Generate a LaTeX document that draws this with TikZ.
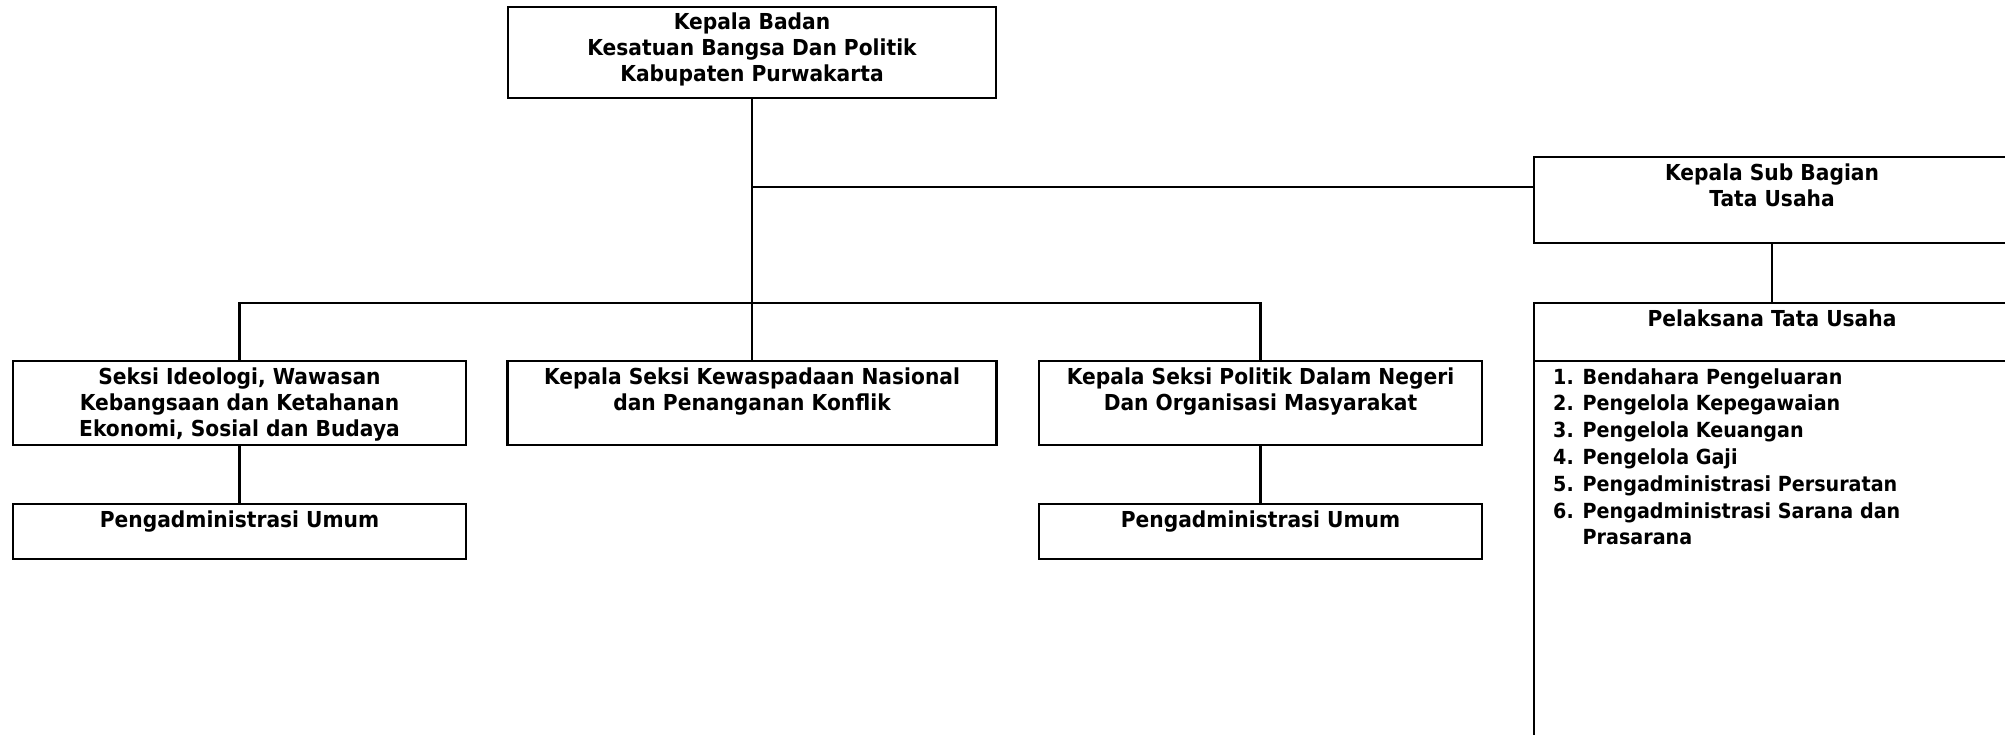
\documentclass[tikz,border=0pt]{standalone}
\usepackage{fontspec}
\setmainfont{DejaVu Sans}[FakeStretch=0.92]

\begin{document}
\begin{tikzpicture}[
    x=0.5pt, y=-0.5pt,
    unit box/.style={draw, line width=1.2pt, inner sep=0pt},
    unit title/.style={anchor=north, inner sep=0pt, align=center, font=\fontsize{11}{13}\selectfont\bfseries},
    duty list/.style={anchor=north west, inner sep=0pt, align=left, font=\fontsize{10.4}{13.4}\selectfont\bfseries},
    link/.style={line width=1.1pt}
]
\useasboundingbox (0,0) rectangle (2005,734);

% Kepala Badan
\node[unit box, minimum width=244pt, minimum height=45.5pt] (kepala) at (752,52.5) {};
\node[unit title] (kepala title) at ([yshift=-3.2pt]kepala.north) {Kepala Badan\\Kesatuan Bangsa Dan Politik\\Kabupaten Purwakarta};

% Sub Bagian Tata Usaha
\node[unit box, minimum width=238pt, minimum height=43pt] (kasubag) at (1772,200) {};
\node[unit title] (kasubag title) at ([yshift=-4pt]kasubag.north) {Kepala Sub Bagian\\Tata Usaha};

\node[unit box, minimum width=238pt, minimum height=29pt] (pelaksana) at (1772,332) {};
\node[unit title] (pelaksana title) at ([yshift=-4pt]pelaksana.north) {Pelaksana Tata Usaha};
\node[unit box, minimum width=238pt, minimum height=204.5pt] (tugas) at (1772,565.5) {};
\node[duty list] (tugas list) at ([xshift=10pt, yshift=-4pt]tugas.north west) {1. Bendahara Pengeluaran\\2. Pengelola Kepegawaian\\3. Pengelola Keuangan\\4. Pengelola Gaji\\5. Pengadministrasi Persuratan\\6. Pengadministrasi Sarana dan\\\hphantom{6. }Prasarana};

% Seksi
\node[unit box, minimum width=226.5pt, minimum height=42pt] (ideologi) at (239.5,403) {};
\node[unit title] (ideologi title) at ([yshift=-4pt]ideologi.north) {Seksi Ideologi, Wawasan\\Kebangsaan dan Ketahanan\\Ekonomi, Sosial dan Budaya};

\node[unit box, minimum width=244.5pt, minimum height=42pt] (kewaspadaan) at (752,403) {};
\node[unit title] (kewaspadaan title) at ([yshift=-4pt]kewaspadaan.north) {Kepala Seksi Kewaspadaan Nasional\\dan Penanganan Konflik};

\node[unit box, minimum width=221.5pt, minimum height=42pt] (politik) at (1260.5,403) {};
\node[unit title] (politik title) at ([yshift=-4pt]politik.north) {Kepala Seksi Politik Dalam Negeri\\Dan Organisasi Masyarakat};

% Pengadministrasi Umum
\node[unit box, minimum width=226.5pt, minimum height=27.5pt] (umum1) at (239.5,531.5) {};
\node[unit title] (umum1 title) at ([yshift=-4pt]umum1.north) {Pengadministrasi Umum};

\node[unit box, minimum width=221.5pt, minimum height=27.5pt] (umum2) at (1260.5,531.5) {};
\node[unit title] (umum2 title) at ([yshift=-4pt]umum2.north) {Pengadministrasi Umum};

% Connections
\coordinate (staff) at (752,187);
\coordinate (branch) at (752,303);
\draw[link] (kepala.south) -- (kewaspadaan.north);
\draw[link] (staff) -- (staff -| kasubag.west);
\draw[link] (ideologi.north) |- (branch) -| (politik.north);
\draw[link] (ideologi.south) -- (umum1.north);
\draw[link] (politik.south) -- (umum2.north);
\draw[link] (kasubag.south) -- (pelaksana.north);

\end{tikzpicture}
\end{document}
